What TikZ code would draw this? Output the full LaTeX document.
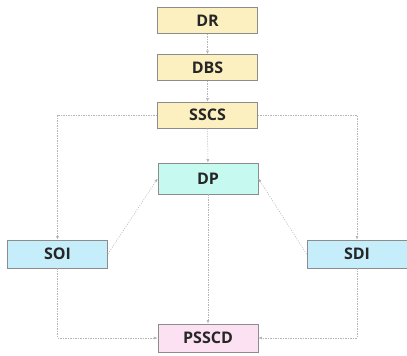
\documentclass[tikz,border=0pt]{standalone}
\usepackage{fontspec}
\setmainfont{Open Sans}
\usetikzlibrary{arrows.meta}
\definecolor{yel}{HTML}{FCEFC0}
\definecolor{aqua}{HTML}{C6FAF0}
\definecolor{lblue}{HTML}{C6EEFA}
\definecolor{pink}{HTML}{FBE1F1}
\definecolor{bord}{HTML}{8C8C8C}
\definecolor{conn}{HTML}{B4B4B4}
\tikzset{
  box/.style={draw=bord, line width=0.8pt, minimum width=100pt, minimum height=26pt, inner sep=0pt,
    font=\fontsize{16}{18}\selectfont\bfseries, text=black!85},
  conn/.style={draw=conn, line width=0.5pt, dash pattern=on 1.2pt off 1.3pt,
    -{Latex[length=3.5pt,width=3pt]}}
}
\begin{document}
\begin{tikzpicture}[x=1pt,y=-1pt]
\useasboundingbox (0,0) rectangle (407,356);
\node[box, fill=yel] (dr) at (207.5,20.5) {DR};
\node[box, fill=yel] (dbs) at (207.5,67.5) {DBS};
\node[box, fill=yel] (sscs) at (207.5,115) {SSCS};
\node[box, fill=aqua, minimum height=31pt] (dp) at (208,178.5) {DP};
\node[box, fill=lblue, minimum height=28pt] (soi) at (57.5,254) {SOI};
\node[box, fill=lblue, minimum height=28pt] (sdi) at (357,254) {SDI};
\node[box, fill=pink, minimum height=28pt] (pscd) at (208,338) {PSSCD};
\draw[conn] (dr) -- (dbs);
\draw[conn] (dbs) -- (sscs);
\draw[conn] (sscs) -- (dp);
\draw[conn] (sscs.west) -| (soi.north);
\draw[conn] (sscs.east) -| (sdi.north);
\draw[conn] (soi.east) -- (dp.west);
\draw[conn] (sdi.west) -- (dp.east);
\draw[conn] (dp) -- (pscd);
\draw[conn] (soi.south) |- (pscd.west);
\draw[conn] (sdi.south) |- (pscd.east);
\end{tikzpicture}
\end{document}
